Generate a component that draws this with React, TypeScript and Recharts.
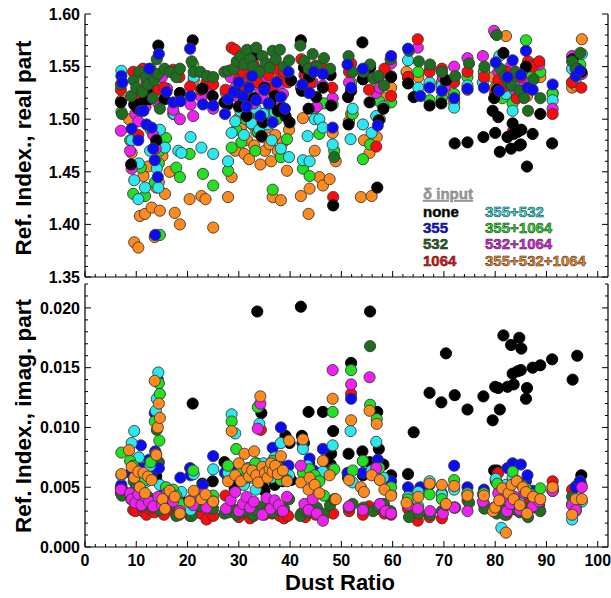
import React from "react";
import { ScatterChart, Scatter, XAxis, YAxis, Legend } from "recharts";

// each point: [dust ratio (%), refractive index real part, imaginary part]
type Pt = [number, number, number];

const none: Pt[] = [
  [7.0, 1.516, 0.0049], [9.0, 1.457, 0.0062], [9.6, 1.514, 0.0069], [10.3, 1.51, 0.0065],
  [11.0, 1.515, 0.0054], [12.0, 1.527, 0.0058], [12.5, 1.519, 0.0063], [13.9, 1.48, 0.0059],
  [14.3, 1.57, 0.0066], [15.5, 1.519, 0.0045], [18.5, 1.525, 0.004], [21.0, 1.575, 0.012],
  [22.9, 1.529, 0.0053], [24.9, 1.522, 0.0055], [27.2, 1.516, 0.0071], [27.8, 1.514, 0.0066],
  [29.2, 1.526, 0.0049], [30.0, 1.512, 0.0052], [31.0, 1.519, 0.0054], [31.5, 1.503, 0.006],
  [33.0, 1.52, 0.0058], [33.6, 1.562, 0.0197], [34.4, 1.484, 0.0112], [34.7, 1.497, 0.005],
  [35.0, 1.53, 0.0047], [36.1, 1.515, 0.0065], [37.0, 1.522, 0.0052], [37.6, 1.508, 0.0062],
  [38.5, 1.511, 0.0055], [39.1, 1.503, 0.0093], [39.9, 1.497, 0.0087], [40.2, 1.537, 0.0056],
  [42.1, 1.575, 0.0201], [42.3, 1.527, 0.0093], [42.7, 1.549, 0.0087], [43.6, 1.51, 0.0113],
  [43.7, 1.54, 0.007], [45.1, 1.521, 0.0059], [46.4, 1.53, 0.0113], [47.9, 1.542, 0.0069],
  [48.0, 1.513, 0.0078], [48.4, 1.418, 0.0097], [51.3, 1.521, 0.0058], [51.4, 1.495, 0.0078],
  [51.9, 1.527, 0.0154], [54.1, 1.573, 0.008], [54.2, 1.538, 0.006], [55.5, 1.516, 0.0071],
  [55.6, 1.549, 0.0197], [57.0, 1.435, 0.0113], [57.3, 1.499, 0.0082], [58.2, 1.51, 0.0069],
  [59.7, 1.54, 0.006], [63.0, 1.534, 0.0061], [64.1, 1.521, 0.0096], [67.2, 1.513, 0.0129],
  [69.5, 1.515, 0.0121], [70.4, 1.537, 0.0162], [72.1, 1.477, 0.0127], [74.6, 1.478, 0.0115],
  [77.7, 1.483, 0.0126], [79.5, 1.508, 0.0106], [79.8, 1.52, 0.0064], [80.0, 1.487, 0.0134],
  [80.4, 1.528, 0.0064], [80.6, 1.502, 0.0133], [80.9, 1.469, 0.0115], [81.6, 1.563, 0.0177],
  [82.4, 1.483, 0.0134], [83.1, 1.472, 0.0169], [83.4, 1.496, 0.0145], [83.6, 1.486, 0.0136],
  [84.4, 1.488, 0.0147], [84.7, 1.475, 0.0175], [85.0, 1.476, 0.0148], [85.1, 1.49, 0.0166],
  [86.0, 1.55, 0.0124], [86.2, 1.455, 0.0133], [87.3, 1.486, 0.015], [88.8, 1.505, 0.0152],
  [91.1, 1.477, 0.0157], [95.1, 1.557, 0.014], [96.0, 1.548, 0.016], [96.8, 1.545, 0.006],
];

const d355: Pt[] = [
  [7.1, 1.541, 0.0052], [7.3, 1.535, 0.0048], [9.1, 1.491, 0.0061], [10.4, 1.48, 0.0058],
  [10.9, 1.508, 0.0085], [11.4, 1.508, 0.0066], [12.0, 1.495, 0.0055], [12.5, 1.548, 0.0073],
  [13.0, 1.492, 0.006], [13.3, 1.472, 0.0067], [13.6, 1.461, 0.0112], [13.7, 1.39, 0.008],
  [14.2, 1.445, 0.014], [14.4, 1.562, 0.0066], [15.9, 1.526, 0.0047], [17.2, 1.516, 0.0042],
  [18.6, 1.517, 0.0058], [20.5, 1.567, 0.0066], [20.6, 1.522, 0.006], [23.0, 1.514, 0.0052],
  [25.0, 1.513, 0.0076], [27.3, 1.505, 0.0062], [27.9, 1.519, 0.0058], [29.0, 1.526, 0.0065],
  [30.0, 1.535, 0.006], [30.8, 1.522, 0.0058], [31.5, 1.512, 0.0062], [32.0, 1.53, 0.0066],
  [32.6, 1.541, 0.0061], [33.4, 1.518, 0.007], [34.2, 1.503, 0.0064], [35.0, 1.528, 0.0068],
  [35.8, 1.515, 0.0063], [36.6, 1.497, 0.0083], [37.4, 1.535, 0.007], [38.2, 1.521, 0.01],
  [39.0, 1.51, 0.0067], [39.7, 1.545, 0.0068], [42.4, 1.533, 0.0087], [43.8, 1.525, 0.0074],
  [44.6, 1.545, 0.0064], [46.4, 1.543, 0.0082], [48.3, 1.492, 0.0064], [51.2, 1.552, 0.0062],
  [51.9, 1.53, 0.0124], [54.2, 1.548, 0.0062], [57.1, 1.494, 0.0073], [59.7, 1.56, 0.0055],
  [63.0, 1.567, 0.005], [65.4, 1.522, 0.005], [67.2, 1.53, 0.0052], [69.6, 1.527, 0.0045],
  [72.0, 1.52, 0.0068], [74.6, 1.529, 0.005], [77.8, 1.53, 0.0048], [80.1, 1.554, 0.0055],
  [80.8, 1.527, 0.0052], [82.4, 1.54, 0.0066], [83.4, 1.556, 0.007], [85.0, 1.542, 0.0069],
  [86.0, 1.565, 0.0055], [86.3, 1.53, 0.006], [87.3, 1.528, 0.0047], [91.2, 1.533, 0.005],
  [95.7, 1.541, 0.005], [96.5, 1.546, 0.0055],
];

const d532: Pt[] = [
  [7.0, 1.533, 0.0045], [7.2, 1.505, 0.0043], [9.0, 1.522, 0.004], [9.5, 1.537, 0.0055],
  [10.0, 1.53, 0.005], [10.6, 1.545, 0.0048], [11.2, 1.526, 0.0034], [11.8, 1.54, 0.0038],
  [12.3, 1.533, 0.0042], [12.8, 1.548, 0.006], [13.2, 1.52, 0.0033], [13.5, 1.537, 0.0036],
  [14.0, 1.557, 0.0098], [14.3, 1.543, 0.007], [14.6, 1.51, 0.0031], [15.5, 1.548, 0.004],
  [16.6, 1.545, 0.0035], [17.8, 1.54, 0.0026], [18.5, 1.548, 0.0028], [20.8, 1.555, 0.0026],
  [21.2, 1.545, 0.0033], [22.5, 1.545, 0.0034], [23.8, 1.541, 0.0033], [25.0, 1.54, 0.0032],
  [27.2, 1.545, 0.0028], [28.0, 1.546, 0.0029], [29.0, 1.548, 0.003], [29.6, 1.555, 0.0027],
  [30.4, 1.56, 0.0029], [31.0, 1.552, 0.0033], [31.6, 1.566, 0.003], [32.2, 1.557, 0.0035],
  [32.8, 1.55, 0.0027], [33.4, 1.568, 0.0031], [34.0, 1.545, 0.0118], [34.6, 1.56, 0.0034],
  [35.3, 1.553, 0.003], [36.0, 1.549, 0.0032], [36.6, 1.565, 0.0029], [37.2, 1.557, 0.0035],
  [38.0, 1.566, 0.0031], [38.8, 1.55, 0.0032], [39.8, 1.556, 0.004], [42.0, 1.57, 0.0026],
  [42.8, 1.555, 0.003], [43.6, 1.548, 0.0029], [44.4, 1.562, 0.0031], [45.2, 1.55, 0.0033],
  [46.6, 1.558, 0.0028], [47.8, 1.548, 0.0035], [48.6, 1.464, 0.004], [51.4, 1.56, 0.0033],
  [52.2, 1.545, 0.0036], [54.3, 1.545, 0.0033], [55.6, 1.552, 0.0168], [56.2, 1.539, 0.003],
  [57.2, 1.541, 0.0034], [58.3, 1.532, 0.0036], [59.6, 1.557, 0.003], [63.2, 1.565, 0.0025],
  [65.1, 1.555, 0.0028], [67.3, 1.552, 0.0027], [69.6, 1.545, 0.003], [72.2, 1.541, 0.0033],
  [74.9, 1.553, 0.0037], [77.9, 1.55, 0.0032], [80.3, 1.58, 0.0028], [81.0, 1.548, 0.0031],
  [81.9, 1.541, 0.0027], [82.6, 1.535, 0.003], [83.2, 1.532, 0.0034], [84.0, 1.545, 0.0032],
  [84.8, 1.527, 0.0029], [85.6, 1.52, 0.0033], [86.4, 1.508, 0.0025], [87.5, 1.538, 0.004],
  [88.8, 1.52, 0.003], [95.0, 1.555, 0.0042], [95.8, 1.548, 0.0051], [96.6, 1.563, 0.0055],
];

const d1064: Pt[] = [
  [7.0, 1.528, 0.005], [9.4, 1.545, 0.0031], [9.8, 1.52, 0.003], [10.4, 1.485, 0.0048],
  [11.3, 1.548, 0.003], [12.0, 1.535, 0.0027], [12.8, 1.525, 0.0031], [13.6, 1.54, 0.0029],
  [14.4, 1.528, 0.0071], [15.4, 1.53, 0.0027], [17.2, 1.547, 0.0031], [18.4, 1.54, 0.0027],
  [20.5, 1.531, 0.0026], [22.6, 1.528, 0.0028], [23.7, 1.535, 0.0023], [25.0, 1.533, 0.0026],
  [27.4, 1.528, 0.0043], [28.6, 1.568, 0.003], [29.3, 1.566, 0.0031], [30.0, 1.538, 0.0025],
  [30.8, 1.545, 0.0033], [31.5, 1.53, 0.0028], [32.2, 1.54, 0.0024], [32.9, 1.552, 0.0026],
  [33.6, 1.535, 0.003], [34.3, 1.546, 0.0098], [35.0, 1.528, 0.0027], [35.8, 1.542, 0.0031],
  [36.5, 1.53, 0.0028], [37.3, 1.548, 0.0029], [38.0, 1.538, 0.0026], [38.8, 1.545, 0.0024],
  [39.6, 1.535, 0.0026], [42.2, 1.557, 0.0028], [43.0, 1.541, 0.0025], [44.0, 1.535, 0.003],
  [45.0, 1.551, 0.0027], [46.5, 1.548, 0.0026], [48.2, 1.53, 0.0065], [48.4, 1.426, 0.0028],
  [51.5, 1.545, 0.003], [51.9, 1.553, 0.0128], [54.2, 1.546, 0.0027], [55.4, 1.528, 0.0034],
  [56.8, 1.474, 0.0067], [57.3, 1.54, 0.0032], [58.4, 1.548, 0.0028], [59.7, 1.522, 0.0027],
  [63.0, 1.54, 0.0032], [64.9, 1.576, 0.0022], [67.2, 1.545, 0.0025], [69.6, 1.548, 0.0024],
  [72.0, 1.535, 0.0033], [74.6, 1.545, 0.0039], [77.8, 1.54, 0.0036], [80.0, 1.525, 0.003],
  [80.6, 1.537, 0.0062], [81.3, 1.53, 0.0034], [82.2, 1.545, 0.0027], [83.4, 1.488, 0.004],
  [84.2, 1.52, 0.0031], [85.0, 1.54, 0.0035], [86.4, 1.555, 0.0036], [87.3, 1.55, 0.0033],
  [88.6, 1.555, 0.0035], [91.2, 1.505, 0.0055], [95.0, 1.535, 0.0048], [96.8, 1.53, 0.0052],
];

const d355_532: Pt[] = [
  [7.1, 1.546, 0.006], [9.1, 1.48, 0.0087], [9.6, 1.442, 0.0097], [10.4, 1.424, 0.0059],
  [10.5, 1.458, 0.0075], [11.7, 1.435, 0.0054], [12.7, 1.47, 0.0068], [13.8, 1.475, 0.0114],
  [14.0, 1.453, 0.0124], [14.3, 1.435, 0.0146], [14.6, 1.49, 0.0052], [15.6, 1.473, 0.0042],
  [17.4, 1.505, 0.0045], [18.2, 1.47, 0.0038], [18.8, 1.468, 0.0046], [20.6, 1.483, 0.0031],
  [21.2, 1.54, 0.0061], [22.7, 1.473, 0.004], [25.0, 1.467, 0.0065], [27.9, 1.46, 0.0062],
  [28.6, 1.487, 0.0111], [29.3, 1.498, 0.0095], [30.3, 1.508, 0.006], [31.0, 1.485, 0.0052],
  [31.8, 1.502, 0.0066], [32.5, 1.496, 0.0058], [33.3, 1.51, 0.0048], [34.0, 1.49, 0.0103],
  [34.8, 1.505, 0.007], [35.6, 1.495, 0.0062], [36.4, 1.48, 0.0058], [37.0, 1.507, 0.0075],
  [38.2, 1.472, 0.0087], [39.8, 1.464, 0.006], [42.5, 1.461, 0.0082], [43.4, 1.484, 0.0068],
  [43.8, 1.46, 0.006], [44.8, 1.5, 0.005], [45.7, 1.5, 0.0056], [46.4, 1.492, 0.0063],
  [48.3, 1.476, 0.0085], [51.8, 1.481, 0.0097], [52.2, 1.51, 0.0054], [54.2, 1.495, 0.0072],
  [55.9, 1.487, 0.0064], [56.8, 1.503, 0.0088], [58.2, 1.512, 0.0058], [59.7, 1.541, 0.0044],
  [63.0, 1.556, 0.0042], [65.0, 1.53, 0.0046], [67.2, 1.535, 0.0055], [69.6, 1.532, 0.0044],
  [72.0, 1.511, 0.0048], [74.6, 1.532, 0.0044], [77.6, 1.535, 0.0044], [80.1, 1.581, 0.0057],
  [80.8, 1.56, 0.0047], [81.2, 1.54, 0.0016], [82.1, 1.524, 0.0052], [83.4, 1.508, 0.0058],
  [84.6, 1.535, 0.004], [85.4, 1.53, 0.0051], [91.2, 1.518, 0.0047], [95.0, 1.548, 0.0023],
  [95.7, 1.538, 0.003], [96.9, 1.562, 0.0038],
];

const d355_1064: Pt[] = [
  [7.1, 1.507, 0.0079], [8.8, 1.48, 0.0072], [9.4, 1.429, 0.0068], [10.9, 1.454, 0.006],
  [11.7, 1.427, 0.0056], [12.8, 1.49, 0.0071], [13.6, 1.44, 0.0105], [14.4, 1.458, 0.0137],
  [14.5, 1.47, 0.0089], [14.6, 1.39, 0.0128], [15.8, 1.482, 0.005], [17.2, 1.505, 0.0048],
  [17.8, 1.454, 0.0043], [18.5, 1.445, 0.0036], [20.4, 1.467, 0.0038], [21.1, 1.552, 0.0064],
  [23.0, 1.448, 0.004], [25.0, 1.437, 0.0043], [27.9, 1.451, 0.0068], [28.6, 1.473, 0.0105],
  [29.5, 1.49, 0.0082], [30.5, 1.478, 0.0064], [31.4, 1.5, 0.0058], [32.4, 1.512, 0.0062],
  [33.2, 1.47, 0.007], [33.7, 1.488, 0.0117], [34.8, 1.495, 0.0066], [35.6, 1.507, 0.006],
  [36.6, 1.433, 0.0072], [37.4, 1.5, 0.0068], [38.2, 1.464, 0.0056], [39.4, 1.481, 0.0056],
  [42.5, 1.453, 0.0062], [43.8, 1.446, 0.0065], [44.8, 1.51, 0.006], [45.7, 1.486, 0.0055],
  [46.6, 1.515, 0.0043], [48.3, 1.514, 0.0113], [48.6, 1.47, 0.0065], [51.9, 1.535, 0.0148],
  [52.2, 1.505, 0.0064], [54.2, 1.462, 0.0072], [55.6, 1.476, 0.0119], [56.9, 1.53, 0.0107],
  [57.4, 1.517, 0.0066], [59.7, 1.516, 0.005], [63.0, 1.54, 0.004], [65.0, 1.545, 0.0034],
  [67.2, 1.518, 0.0044], [69.6, 1.52, 0.004], [72.0, 1.524, 0.0056], [74.6, 1.54, 0.0045],
  [77.8, 1.545, 0.0045], [80.4, 1.53, 0.0053], [81.4, 1.52, 0.0047], [82.8, 1.527, 0.005],
  [83.4, 1.515, 0.0063], [84.3, 1.535, 0.0055], [86.0, 1.575, 0.0049], [87.0, 1.54, 0.0044],
  [88.8, 1.545, 0.0049], [91.2, 1.524, 0.0047], [95.0, 1.535, 0.0036], [95.7, 1.547, 0.0033],
  [96.6, 1.552, 0.004],
];

const d532_1064: Pt[] = [
  [7.0, 1.489, 0.0048], [8.8, 1.47, 0.0045], [9.1, 1.453, 0.004], [9.8, 1.505, 0.0037],
  [10.4, 1.498, 0.0044], [11.0, 1.523, 0.0035], [11.8, 1.512, 0.0042], [12.5, 1.53, 0.0038],
  [13.3, 1.485, 0.0034], [13.8, 1.472, 0.0078], [14.3, 1.515, 0.0042], [15.0, 1.54, 0.0035],
  [16.0, 1.529, 0.0045], [17.2, 1.509, 0.0038], [18.5, 1.5, 0.003], [20.6, 1.514, 0.0039],
  [21.1, 1.503, 0.0035], [22.7, 1.521, 0.0044], [23.7, 1.53, 0.0033], [25.0, 1.51, 0.0038],
  [27.5, 1.525, 0.0032], [28.4, 1.54, 0.0039], [29.3, 1.53, 0.0046], [30.0, 1.52, 0.003],
  [30.8, 1.545, 0.0036], [31.5, 1.528, 0.0042], [32.2, 1.533, 0.0033], [32.9, 1.515, 0.0038],
  [33.7, 1.54, 0.0099], [34.2, 1.526, 0.012], [34.6, 1.52, 0.0027], [35.4, 1.538, 0.0041],
  [36.2, 1.528, 0.0032], [37.0, 1.518, 0.0039], [37.8, 1.532, 0.0035], [38.6, 1.524, 0.003],
  [39.4, 1.538, 0.0042], [42.1, 1.53, 0.0068], [42.8, 1.542, 0.0036], [43.6, 1.525, 0.0031],
  [44.4, 1.535, 0.004], [45.2, 1.512, 0.0028], [46.4, 1.532, 0.0022], [48.3, 1.52, 0.0148],
  [51.5, 1.535, 0.0034], [51.9, 1.545, 0.0136], [54.2, 1.538, 0.0031], [55.5, 1.541, 0.0142],
  [56.8, 1.525, 0.0066], [57.5, 1.53, 0.0036], [58.6, 1.545, 0.003], [59.7, 1.553, 0.0028],
  [63.0, 1.54, 0.0035], [64.9, 1.568, 0.0032], [67.3, 1.548, 0.003], [69.8, 1.54, 0.0028],
  [70.4, 1.532, 0.0035], [72.0, 1.55, 0.0033], [74.6, 1.558, 0.003], [77.6, 1.56, 0.0038],
  [79.8, 1.584, 0.0033], [80.6, 1.545, 0.0045], [81.5, 1.538, 0.004], [82.3, 1.532, 0.003],
  [83.0, 1.55, 0.0036], [83.8, 1.528, 0.0042], [84.8, 1.54, 0.0031], [85.7, 1.535, 0.0045],
  [87.3, 1.552, 0.0034], [88.6, 1.552, 0.0038], [91.2, 1.51, 0.0047], [95.0, 1.56, 0.0035],
  [95.7, 1.548, 0.0031], [96.9, 1.543, 0.005],
];

const d355_532_1064: Pt[] = [
  [7.1, 1.518, 0.0061], [8.6, 1.5, 0.0081], [9.1, 1.468, 0.0067], [9.6, 1.383, 0.0058],
  [10.4, 1.378, 0.0063], [10.7, 1.408, 0.005], [11.4, 1.446, 0.0062], [11.7, 1.41, 0.0045],
  [12.3, 1.455, 0.0059], [13.0, 1.416, 0.0056], [13.6, 1.388, 0.0139], [13.9, 1.435, 0.0077],
  [14.2, 1.46, 0.01], [14.4, 1.44, 0.012], [14.6, 1.413, 0.0108], [15.1, 1.465, 0.004],
  [15.6, 1.429, 0.0032], [16.5, 1.45, 0.0047], [17.5, 1.411, 0.0042], [18.5, 1.4, 0.0028],
  [20.4, 1.424, 0.0038], [21.2, 1.537, 0.0047], [22.7, 1.427, 0.004], [23.5, 1.424, 0.0044],
  [25.0, 1.397, 0.0038], [27.9, 1.426, 0.0055], [28.6, 1.445, 0.0097], [29.3, 1.47, 0.006],
  [30.0, 1.501, 0.007], [30.4, 1.491, 0.0055], [31.1, 1.467, 0.0078], [31.6, 1.48, 0.0065],
  [32.0, 1.462, 0.0059], [32.6, 1.495, 0.0064], [33.0, 1.475, 0.008], [33.4, 1.488, 0.006],
  [33.8, 1.505, 0.0054], [34.2, 1.457, 0.0126], [34.6, 1.483, 0.0067], [35.1, 1.47, 0.0062],
  [35.6, 1.492, 0.0058], [36.0, 1.476, 0.0065], [36.3, 1.46, 0.007], [36.6, 1.426, 0.0063],
  [37.1, 1.485, 0.0068], [37.6, 1.47, 0.0061], [38.2, 1.423, 0.0076], [38.6, 1.478, 0.0064],
  [39.4, 1.451, 0.0055], [39.8, 1.49, 0.0089], [42.1, 1.427, 0.0054], [42.5, 1.501, 0.009],
  [43.6, 1.41, 0.0048], [43.8, 1.434, 0.0058], [44.8, 1.47, 0.0052], [45.7, 1.445, 0.0045],
  [46.4, 1.437, 0.0072], [47.7, 1.443, 0.006], [48.3, 1.487, 0.0124], [48.9, 1.46, 0.004],
  [51.5, 1.498, 0.0056], [51.9, 1.505, 0.0106], [53.8, 1.426, 0.005], [54.4, 1.48, 0.0046],
  [55.5, 1.468, 0.0114], [55.9, 1.427, 0.006], [56.9, 1.483, 0.0103], [57.5, 1.5, 0.0056],
  [58.4, 1.52, 0.0048], [59.7, 1.53, 0.0043], [62.7, 1.545, 0.0037], [65.0, 1.54, 0.0042],
  [67.2, 1.533, 0.0053], [69.6, 1.535, 0.0052], [70.4, 1.525, 0.0036], [72.0, 1.516, 0.0051],
  [74.6, 1.528, 0.0043], [77.8, 1.545, 0.0043], [79.6, 1.54, 0.003], [80.0, 1.53, 0.0033],
  [80.8, 1.525, 0.0039], [81.4, 1.535, 0.0049], [82.1, 1.579, 0.0012], [82.6, 1.54, 0.0045],
  [83.2, 1.53, 0.0052], [83.6, 1.545, 0.004], [84.2, 1.52, 0.0055], [84.8, 1.535, 0.0035],
  [85.4, 1.54, 0.005], [86.0, 1.53, 0.0046], [86.2, 1.522, 0.0028], [87.4, 1.545, 0.0042],
  [88.8, 1.54, 0.004], [91.2, 1.525, 0.005], [95.0, 1.53, 0.0027], [95.7, 1.532, 0.004],
  [96.9, 1.576, 0.004],
];

const seriesNames = ["none", "355", "532", "1064", "355+532", "355+1064", "532+1064", "355+532+1064"];
const seriesColors = ["#000000", "#0a0aff", "#1d6e1d", "#ff0a0a", "#2ae8ee", "#22e022", "#f020f0", "#ff8a1e"];
const seriesData = [none, d355, d532, d1064, d355_532, d355_1064, d532_1064, d355_532_1064];

// draw order (bottom -> top) for each panel, as series indices
const orderA = [7, 5, 4, 6, 3, 0, 2, 1];
const orderB = [0, 3, 2, 1, 4, 5, 6, 7];

const xTicks = Array.from({ length: 51 }, (_, i) => i * 2);
const realTicks = Array.from({ length: 26 }, (_, i) => (135 + i) / 100);
const imagTicks = Array.from({ length: 23 }, (_, i) => i / 1000);

const FONT = "'Liberation Sans', Arial, Helvetica, sans-serif";
const W = 611;

function XTick(props: any) {
  const { x, y, payload, side, showLabel } = props;
  const v = payload.value;
  const major = v % 10 === 0;
  const len = major ? 6 : 3;
  const dir = side === "top" ? 1 : -1;
  return (
    <g>
      <line x1={x} y1={y} x2={x} y2={y + dir * len} stroke="#000" strokeWidth={1} />
      {showLabel && major && (
        <text x={x} y={y + 19} textAnchor="middle" fontFamily={FONT} fontWeight="bold" fontSize={16} fill="#000">
          {v}
        </text>
      )}
    </g>
  );
}

function YTick(props: any) {
  const { x, y, payload, side, kind } = props;
  const v = payload.value;
  const major = kind === "real" ? Math.round(v * 100) % 5 === 0 : Math.round(v * 1000) % 5 === 0;
  const len = major ? 6 : 3;
  const dir = side === "right" ? -1 : 1;
  return (
    <g>
      <line x1={x} y1={y} x2={x + dir * len} y2={y} stroke="#000" strokeWidth={1} />
      {side === "left" && major && (
        <text x={x - 5} y={y} dy="0.36em" textAnchor="end" fontFamily={FONT} fontWeight="bold" fontSize={16} fill="#000">
          {kind === "real" ? v.toFixed(2) : v.toFixed(3)}
        </text>
      )}
    </g>
  );
}

const dot = (fill: string) => (p: any) =>
  <circle cx={p.cx} cy={p.cy} r={5.6} fill={fill} stroke={fill === "#000000" ? "#000" : "#3a3a3a"} strokeWidth={0.9} />;

function LegendBox() {
  const col1 = [0, 1, 2, 3];
  const col2 = [4, 5, 6, 7];
  const rowY = [34, 50, 66, 83];
  return (
    <svg width={190} height={90} style={{ overflow: "visible" }}>
      <text x={5} y={16} fontFamily={FONT} fontWeight="bold" fontSize={15} fill="#9a9a9a" stroke="#777" strokeWidth={0.4}
        style={{ textDecoration: "underline" }}>
        δ input
      </text>
      {col1.map((i, r) => (
        <text key={i} x={5} y={rowY[r]} fontFamily={FONT} fontWeight="bold" fontSize={15}
          fill={seriesColors[i]} stroke="#222" strokeWidth={0.5}>{seriesNames[i]}</text>
      ))}
      {col2.map((i, r) => (
        <text key={i} x={67} y={rowY[r]} fontFamily={FONT} fontWeight="bold" fontSize={15}
          fill={seriesColors[i]} stroke="#222" strokeWidth={0.5}>{seriesNames[i]}</text>
      ))}
    </svg>
  );
}

const axisLine = { stroke: "#000", strokeWidth: 1.2 };

function Panel(props: { which: "a" | "b" }) {
  const isA = props.which === "a";
  const height = isA ? 290 : 318;
  const idx = isA ? 1 : 2;
  const order = isA ? orderA : orderB;
  const kind = isA ? "real" : "imag";
  const title = isA ? "Ref. Index., real part" : "Ref. Index., imag. part";
  const titleY = isA ? 148 : 136;
  const letterY = isA ? 264 : 253;
  return (
    <ScatterChart width={W} height={height} margin={{ top: isA ? 14 : 4, right: 0, bottom: 0, left: 0 }}>
      <XAxis xAxisId="bottom" type="number" dataKey="x" domain={[0, 102]} ticks={xTicks} interval={0}
        orientation="bottom" height={isA ? 13 : 51} tickSize={0} tickMargin={0} tickLine={false}
        axisLine={axisLine} allowDataOverflow
        tick={<XTick side="bottom" showLabel={!isA} />}
        label={{
          content: () =>
            isA ? null : (
              <text x={340} y={310} textAnchor="middle" fontFamily={FONT} fontWeight="bold" fontSize={22} fill="#000">
                Dust Ratio
              </text>
            ),
        }}
      />
      <XAxis xAxisId="top" type="number" dataKey="x" domain={[0, 102]} ticks={xTicks} interval={0}
        orientation="top" height={0} tickSize={0} tickMargin={0} tickLine={false}
        axisLine={axisLine} allowDataOverflow
        tick={<XTick side="top" showLabel={false} />}
        label={{
          content: () => (
            <text x={97} y={letterY} fontFamily={FONT} fontWeight="bold" fontSize={32} fill="#000">
              {props.which}
            </text>
          ),
        }}
      />
      <YAxis yAxisId="left" type="number" dataKey="y" domain={isA ? [1.35, 1.6] : [0, 0.022]}
        ticks={isA ? realTicks : imagTicks} interval={0} width={85} tickSize={0} tickMargin={0}
        tickLine={false} axisLine={axisLine} allowDataOverflow
        tick={<YTick side="left" kind={kind} />}
        label={{
          content: () => (
            <text transform={`translate(31,${titleY}) rotate(-90)`} textAnchor="middle" fontFamily={FONT}
              fontWeight="bold" fontSize={22.5} fill="#000">
              {title}
            </text>
          ),
        }}
      />
      <YAxis yAxisId="right" orientation="right" type="number" dataKey="y" domain={isA ? [1.35, 1.6] : [0, 0.022]}
        ticks={isA ? realTicks : imagTicks} interval={0} width={3} tickSize={0} tickMargin={0}
        tickLine={false} axisLine={axisLine} allowDataOverflow
        tick={<YTick side="right" kind={kind} />}
      />
      {order.map((s) => (
        <Scatter
          key={seriesNames[s]}
          name={seriesNames[s]}
          xAxisId="bottom"
          yAxisId="left"
          data={seriesData[s].map((p) => ({ x: p[0], y: p[idx] }))}
          fill={seriesColors[s]}
          shape={dot(seriesColors[s])}
          isAnimationActive={false}
        />
      ))}
      {isA && (
        <Legend layout="horizontal" verticalAlign="middle" align="center"
          wrapperStyle={{ left: 418, top: 183, width: 190, height: 90 }}
          content={() => <LegendBox />}
        />
      )}
    </ScatterChart>
  );
}

export default function App() {
  return (
    <div style={{ position: "absolute", left: 0, top: 0, width: W, height: 598, background: "#fff" }}>
      <div style={{ position: "absolute", left: 0, top: 0 }}>
        <Panel which="a" />
      </div>
      <div style={{ position: "absolute", left: 0, top: 280 }}>
        <Panel which="b" />
      </div>
    </div>
  );
}
